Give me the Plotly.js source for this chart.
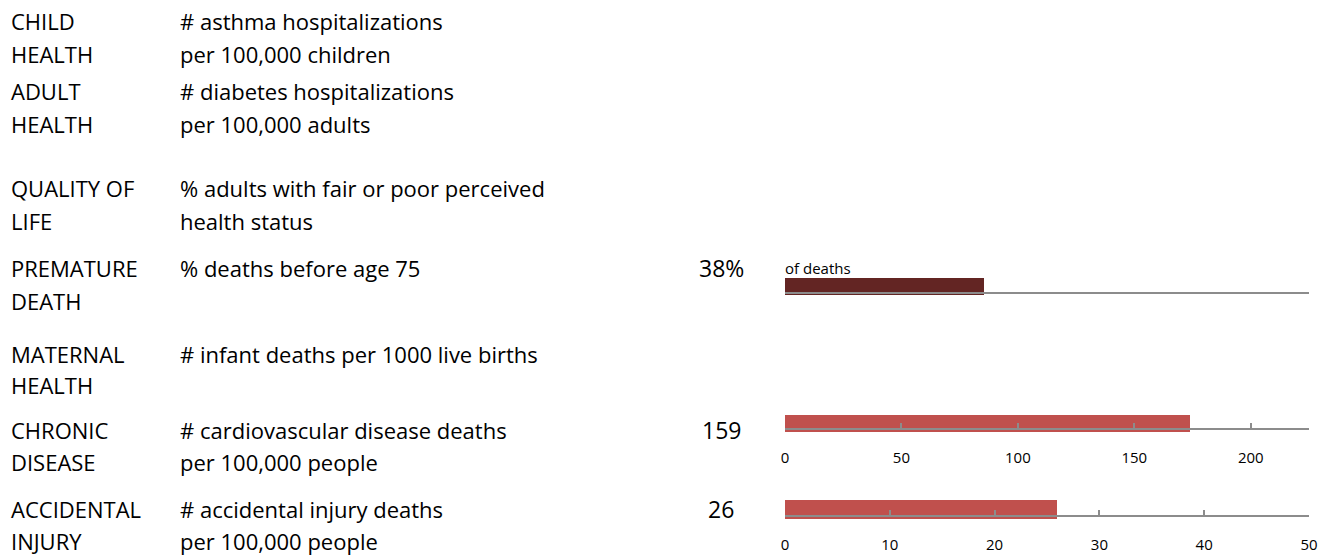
<!DOCTYPE html>
<html>
<head>
<meta charset="utf-8">
<script src="https://cdn.plot.ly/plotly-3.0.1.min.js"></script>
<style>
html,body{margin:0;padding:0;background:#fff;}
#chart{width:1327px;height:557px;}
</style>
</head>
<body>
<div id="chart"></div>
<script>
// ---------- DATA ----------
const domainLabels = [
  ["CHILD", "HEALTH"],
  ["ADULT", "HEALTH"],
  ["QUALITY OF", "LIFE"],
  ["PREMATURE", "DEATH"],
  ["MATERNAL", "HEALTH"],
  ["CHRONIC", "DISEASE"],
  ["ACCIDENTAL", "INJURY"]
];
const measureLabels = [
  ["# asthma hospitalizations", "per 100,000 children"],
  ["# diabetes hospitalizations", "per 100,000 adults"],
  ["% adults with fair or poor perceived", "health status"],
  ["% deaths before age 75"],
  ["# infant deaths per 1000 live births"],
  ["# cardiovascular disease deaths", "per 100,000 people"],
  ["# accidental injury deaths", "per 100,000 people"]
];
const valueLabels = ["", "", "", "38%", "", "159", "26"];

// bar charts (premature death, chronic disease, accidental injury)
const barNames = ["PREMATURE DEATH", "CHRONIC DISEASE", "ACCIDENTAL INJURY"];
const barValues = [38, 174, 26];
const axisMax = [100, 225, 50];
const chronicTicks = [0, 50, 100, 150, 200];
const injuryTicks = [0, 10, 20, 30, 40, 50];
const prematureAxisTitle = "of deaths";

// ---------- LAYOUT (pixels) ----------
const W = 1327, H = 557;
const py = p => 1 - p / H;
const px = p => p / W;
const rowY1 = [21, 91, 188, 268, 354, 430, 509];
const rowY2 = [54, 124, 221, 301, 385, 462, 541];
const col1X = 10, col2X = 179, valX = 721;
const FONT = '"Open Sans", "DejaVu Sans", sans-serif';
const textSize = 22;

const annotations = [];
domainLabels.forEach((lines, i) => {
  lines.forEach((t, j) => annotations.push({
    xref: 'paper', yref: 'paper', x: px(col1X), y: py(j === 0 ? rowY1[i] : rowY2[i]),
    xanchor: 'left', yanchor: 'middle', showarrow: false, text: t, borderpad: 0,
    font: {family: FONT, size: textSize, color: '#000'}
  }));
});
measureLabels.forEach((lines, i) => {
  lines.forEach((t, j) => annotations.push({
    xref: 'paper', yref: 'paper', x: px(col2X), y: py(j === 0 ? rowY1[i] : rowY2[i]),
    xanchor: 'left', yanchor: 'middle', showarrow: false, text: t, borderpad: 0,
    font: {family: FONT, size: textSize, color: '#000'}
  }));
});
valueLabels.forEach((t, i) => {
  if (!t) return;
  annotations.push({
    xref: 'paper', yref: 'paper', x: px(valX), y: py(rowY1[i]),
    xanchor: 'center', yanchor: 'middle', showarrow: false, text: t, borderpad: 0,
    font: {family: FONT, size: 23, color: '#000'}
  });
});
annotations.push({
  xref: 'paper', yref: 'paper', x: px(784), y: py(268),
  xanchor: 'left', yanchor: 'middle', showarrow: false, text: prematureAxisTitle, borderpad: 0,
  font: {family: FONT, size: 15, color: '#000'}
});

// subplot geometry: [barTop, barBottom, axisLine]
const geo = [[278, 295, 293], [415, 432, 429], [500, 519, 516]];
const barColors = ['#632523', '#C0504D', '#C0504D'];
const xDom = [px(785), px(1309)];

const traces = barNames.map((n, k) => ({
  type: 'bar', orientation: 'h',
  x: [barValues[k]], y: [n],
  xaxis: k === 0 ? 'x' : 'x' + (k + 1),
  yaxis: k === 0 ? 'y' : 'y' + (k + 1),
  marker: {color: barColors[k], line: {width: 0}},
  width: 1, hoverinfo: 'skip', showlegend: false
}));

const layout = {
  width: W, height: H,
  margin: {l: 0, r: 0, t: 0, b: 0},
  paper_bgcolor: '#fff', plot_bgcolor: 'rgba(0,0,0,0)',
  showlegend: false, bargap: 0,
  annotations: annotations
};

const tickSets = [null, chronicTicks, injuryTicks];
geo.forEach((g, k) => {
  const xa = k === 0 ? 'xaxis' : 'xaxis' + (k + 1);
  const ya = k === 0 ? 'yaxis' : 'yaxis' + (k + 1);
  layout[ya] = {
    domain: [py(g[1]), py(g[0])], range: [-0.5, 0.5],
    showticklabels: false, showgrid: false, zeroline: false, showline: false,
    fixedrange: true
  };
  layout[xa] = {
    domain: xDom, range: [0, axisMax[k]], anchor: 'free', position: py(g[2]),
    showgrid: false, zeroline: false, showline: true,
    linecolor: '#8c8c8c', linewidth: 2, layer: 'above traces',
    fixedrange: true
  };
  if (tickSets[k]) {
    Object.assign(layout[xa], {
      tickmode: 'array', tickvals: tickSets[k], ticktext: tickSets[k].map(String),
      ticks: 'inside', ticklen: 5, tickwidth: 2, tickcolor: '#8c8c8c',
      tickfont: {family: FONT, size: 15, color: '#000'},
      ticklabelstandoff: 15
    });
  } else {
    Object.assign(layout[xa], {ticks: '', showticklabels: false});
  }
});

Plotly.newPlot('chart', traces, layout, {staticPlot: true, displayModeBar: false});
</script>
</body>
</html>
